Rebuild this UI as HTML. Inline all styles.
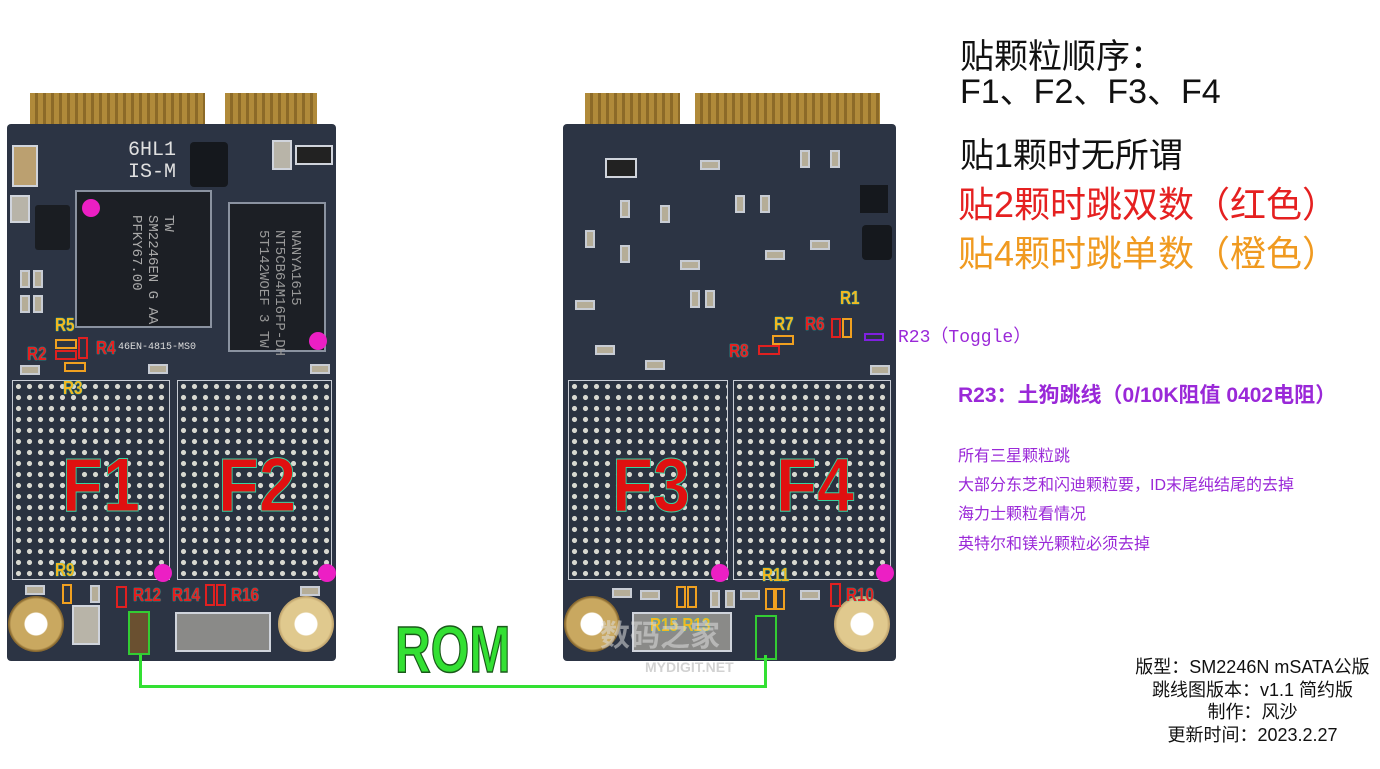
<!DOCTYPE html>
<html><head><meta charset="utf-8"><style>
*{margin:0;padding:0;box-sizing:border-box}
body{width:1380px;height:769px;background:#fff;position:relative;overflow:hidden;font-family:"Liberation Sans","Noto Sans CJK SC",sans-serif}
.a{position:absolute}
.board{position:absolute;background:#2c3444;border-radius:4px}
.gold{position:absolute;background:repeating-linear-gradient(90deg,#b08a3a 0 5px,#8c6a28 5px 8px);}
.chip{position:absolute;background:#1c1f25;border:2px solid #8a92a0}
.bga{position:absolute;border:1px solid #c8ccd4;background-color:#2a3240;
 background-image:radial-gradient(circle,#d8d8d0 2.3px,transparent 2.8px);background-size:11px 11px}
.hole{position:absolute;width:56px;height:56px;border-radius:50%;background:radial-gradient(circle,#fff 0 11px,#c9a860 12px 25px,#8a6a30 27px)}
.dot{position:absolute;width:18px;height:18px;border-radius:50%;background:#ec1fc4}
.big{position:absolute;font-size:76px;font-weight:bold;color:#e01010;-webkit-text-stroke:1px #3ad1a0;font-family:"Liberation Sans",sans-serif;transform:scaleX(.88);transform-origin:left;line-height:1}
.lbl{position:absolute;font-size:18px;font-weight:bold;line-height:1;text-shadow:0 0 1px #2cb,0 0 1px #2cb;transform:scaleX(.85);transform-origin:left}
.r{color:#e52020}.o{color:#f2b820}
.box{position:absolute;border:2px solid}
.smd{position:absolute;background:#b8b4a8;border:2px solid #d0d4dc}
.s{position:absolute;width:10px;height:18px;background:#b5ad98;border:2px solid #c8ccd4}
.sh{position:absolute;width:20px;height:10px;background:#b5ad98;border:2px solid #c8ccd4}
.t{position:absolute;white-space:nowrap;line-height:1}
</style></head><body>

<!-- left board -->
<div class="gold" style="left:30px;top:93px;width:175px;height:32px"></div>
<div class="gold" style="left:225px;top:93px;width:92px;height:32px"></div>
<div class="board" style="left:7px;top:124px;width:329px;height:537px"></div>
<div class="chip" style="left:75px;top:190px;width:137px;height:138px"></div>
<div class="chip" style="left:228px;top:202px;width:98px;height:150px"></div>
<div class="t" style="left:128px;top:215px;font-size:14px;color:#aaa;font-family:'Liberation Mono',monospace;writing-mode:vertical-rl;line-height:16px">TW<br>SM2246EN G AA<br>PFKY67.00</div>
<div class="t" style="left:255px;top:230px;font-size:14px;color:#999;font-family:'Liberation Mono',monospace;writing-mode:vertical-rl;line-height:16px">NANYA1615<br>NT5CB64M16FP-DH<br>5T142WOEF 3 TW</div>
<div class="a" style="left:190px;top:142px;width:38px;height:45px;background:#15181d;border-radius:4px"></div>
<div class="a" style="left:35px;top:205px;width:35px;height:45px;background:#1a1d22;border-radius:3px"></div>
<div class="t" style="left:128px;top:140px;font-size:20px;color:#e0e0e0;font-family:'Liberation Mono',monospace;line-height:22px">6HL1<br>IS-M</div>
<div class="smd" style="left:12px;top:145px;width:26px;height:42px;background:#bba070"></div>
<div class="smd" style="left:10px;top:195px;width:20px;height:28px"></div>
<div class="smd" style="left:295px;top:145px;width:38px;height:20px;background:#222"></div>
<div class="smd" style="left:272px;top:140px;width:20px;height:30px"></div>
<div class="s" style="left:20px;top:270px"></div><div class="s" style="left:33px;top:270px"></div>
<div class="s" style="left:20px;top:295px"></div><div class="s" style="left:33px;top:295px"></div>
<div class="sh" style="left:20px;top:365px"></div><div class="sh" style="left:148px;top:364px"></div>
<div class="sh" style="left:310px;top:364px"></div><div class="sh" style="left:300px;top:586px"></div>
<div class="sh" style="left:25px;top:585px"></div><div class="s" style="left:90px;top:585px"></div>
<div class="bga" style="left:12px;top:380px;width:158px;height:200px"></div>
<div class="bga" style="left:177px;top:380px;width:155px;height:200px"></div>
<div class="hole" style="left:8px;top:596px"></div>
<div class="hole" style="left:278px;top:596px;background:radial-gradient(circle,#fff 0 11px,#e0c98e 12px 25px,#c4a870 27px)"></div>
<div class="smd" style="left:175px;top:612px;width:96px;height:40px;background:#8a8a88"></div>
<div class="smd" style="left:72px;top:605px;width:28px;height:40px"></div>
<div class="big" style="left:62px;top:448px">F1</div>
<div class="big" style="left:218px;top:448px">F2</div>
<div class="dot" style="left:82px;top:199px"></div>
<div class="dot" style="left:309px;top:332px"></div>
<div class="dot" style="left:154px;top:564px"></div>
<div class="dot" style="left:318px;top:564px"></div>
<div class="lbl o" style="left:55px;top:316px">R5</div>
<div class="lbl r" style="left:27px;top:345px">R2</div>
<div class="lbl r" style="left:96px;top:339px">R4</div>
<div class="lbl o" style="left:63px;top:379px">R3</div>
<div class="t" style="left:118px;top:343px;font-size:10px;color:#ddd;font-family:'Liberation Mono',monospace">46EN-4815-MS0</div>
<div class="box" style="left:55px;top:339px;width:22px;height:10px;border-color:#f0a020"></div>
<div class="box" style="left:55px;top:350px;width:22px;height:10px;border-color:#e02020"></div>
<div class="box" style="left:78px;top:337px;width:10px;height:22px;border-color:#e02020"></div>
<div class="box" style="left:64px;top:362px;width:22px;height:10px;border-color:#f0a020"></div>
<div class="lbl o" style="left:55px;top:561px">R9</div>
<div class="box" style="left:62px;top:584px;width:10px;height:20px;border-color:#f0a020"></div>
<div class="box" style="left:116px;top:586px;width:11px;height:22px;border-color:#e02020"></div>
<div class="lbl r" style="left:133px;top:586px">R12</div>
<div class="lbl r" style="left:172px;top:586px">R14</div>
<div class="box" style="left:205px;top:584px;width:10px;height:22px;border-color:#e02020"></div>
<div class="box" style="left:216px;top:584px;width:10px;height:22px;border-color:#e02020"></div>
<div class="lbl r" style="left:231px;top:586px">R16</div>
<div class="box" style="left:128px;top:611px;width:22px;height:44px;border-color:#3c3;background:#6a5030"></div>

<!-- right board -->
<div class="gold" style="left:585px;top:93px;width:95px;height:32px"></div>
<div class="gold" style="left:695px;top:93px;width:185px;height:32px"></div>
<div class="board" style="left:563px;top:124px;width:333px;height:537px"></div>
<div class="smd" style="left:605px;top:158px;width:32px;height:20px;background:#222"></div>
<div class="a" style="left:862px;top:225px;width:30px;height:35px;background:#15181d;border-radius:4px"></div>
<div class="a" style="left:860px;top:185px;width:28px;height:28px;background:#15181d"></div>
<div class="s" style="left:620px;top:200px"></div><div class="s" style="left:660px;top:205px"></div>
<div class="s" style="left:690px;top:290px"></div><div class="s" style="left:705px;top:290px"></div>
<div class="s" style="left:735px;top:195px"></div><div class="s" style="left:760px;top:195px"></div>
<div class="s" style="left:800px;top:150px"></div><div class="s" style="left:830px;top:150px"></div>
<div class="s" style="left:585px;top:230px"></div><div class="s" style="left:620px;top:245px"></div>
<div class="sh" style="left:575px;top:300px"></div><div class="sh" style="left:595px;top:345px"></div>
<div class="sh" style="left:645px;top:360px"></div><div class="sh" style="left:870px;top:365px"></div>
<div class="sh" style="left:700px;top:160px"></div><div class="sh" style="left:765px;top:250px"></div>
<div class="sh" style="left:810px;top:240px"></div><div class="sh" style="left:680px;top:260px"></div>
<div class="bga" style="left:568px;top:380px;width:160px;height:200px"></div>
<div class="bga" style="left:733px;top:380px;width:158px;height:200px"></div>
<div class="hole" style="left:564px;top:596px"></div>
<div class="hole" style="left:834px;top:596px;background:radial-gradient(circle,#fff 0 11px,#e0c98e 12px 25px,#c4a870 27px)"></div>
<div class="smd" style="left:632px;top:612px;width:100px;height:40px;background:#8a8a88"></div>
<div class="sh" style="left:612px;top:588px"></div><div class="sh" style="left:640px;top:590px"></div>
<div class="sh" style="left:740px;top:590px"></div><div class="sh" style="left:800px;top:590px"></div>
<div class="s" style="left:710px;top:590px"></div><div class="s" style="left:725px;top:590px"></div>
<div class="big" style="left:612px;top:448px">F3</div>
<div class="big" style="left:776px;top:448px">F4</div>
<div class="dot" style="left:711px;top:564px"></div>
<div class="dot" style="left:876px;top:564px"></div>
<div class="lbl o" style="left:840px;top:289px">R1</div>
<div class="lbl o" style="left:774px;top:315px">R7</div>
<div class="lbl r" style="left:805px;top:315px">R6</div>
<div class="box" style="left:831px;top:318px;width:10px;height:20px;border-color:#e02020"></div>
<div class="box" style="left:842px;top:318px;width:10px;height:20px;border-color:#f0a020"></div>
<div class="box" style="left:772px;top:335px;width:22px;height:10px;border-color:#f0a020"></div>
<div class="box" style="left:758px;top:345px;width:22px;height:10px;border-color:#e02020"></div>
<div class="lbl r" style="left:729px;top:342px">R8</div>
<div class="box" style="left:864px;top:333px;width:20px;height:8px;border-color:#8020e0"></div>
<div class="lbl o" style="left:762px;top:566px">R11</div>
<div class="box" style="left:765px;top:588px;width:10px;height:22px;border-color:#f0a020"></div>
<div class="box" style="left:775px;top:588px;width:10px;height:22px;border-color:#f0a020"></div>
<div class="box" style="left:676px;top:586px;width:10px;height:22px;border-color:#f0a020"></div>
<div class="box" style="left:687px;top:586px;width:10px;height:22px;border-color:#f0a020"></div>
<div class="box" style="left:830px;top:583px;width:11px;height:24px;border-color:#e02020"></div>
<div class="lbl r" style="left:846px;top:586px">R10</div>
<div class="lbl o" style="left:650px;top:616px">R15 R13</div>
<div class="box" style="left:755px;top:615px;width:22px;height:45px;border-color:#3c3"></div>
<div class="t" style="left:600px;top:622px;font-size:30px;color:rgba(220,220,220,.55);font-weight:bold">数码之家</div>
<div class="t" style="left:645px;top:660px;font-size:14px;color:rgba(180,180,180,.6);font-weight:bold">MYDIGIT.NET</div>

<!-- ROM connector -->
<div class="a" style="left:139px;top:655px;width:628px;height:33px;border:3px solid #33e033;border-top:none"></div>
<div class="t" style="left:395px;top:616px;font-size:66px;font-weight:bold;color:#33e033;-webkit-text-stroke:1.5px #1a5a1a;transform:scaleX(.75);transform-origin:left">ROM</div>

<!-- right text -->
<div class="t" style="left:960px;top:40px;font-size:34px;color:#111">贴颗粒顺序：</div>
<div class="t" style="left:960px;top:75px;font-size:34px;color:#111">F1、F2、F3、F4</div>
<div class="t" style="left:960px;top:139px;font-size:34px;color:#111">贴1颗时无所谓</div>
<div class="t" style="left:958px;top:187px;font-size:36px;color:#e52020">贴2颗时跳双数（红色）</div>
<div class="t" style="left:958px;top:236px;font-size:36px;color:#f09a20">贴4颗时跳单数（橙色）</div>
<div class="t" style="left:898px;top:329px;font-size:18px;color:#9a28d8;font-family:'Liberation Mono','Noto Sans CJK SC',monospace">R23（Toggle）</div>
<div class="t" style="left:958px;top:385px;font-size:21px;font-weight:bold;color:#9a28d8">R23：土狗跳线（0/10K阻值 0402电阻）</div>
<div class="t" style="left:958px;top:449px;font-size:16px;color:#9a28d8">所有三星颗粒跳</div>
<div class="t" style="left:958px;top:478px;font-size:16px;color:#9a28d8">大部分东芝和闪迪颗粒要，ID末尾纯结尾的去掉</div>
<div class="t" style="left:958px;top:507px;font-size:16px;color:#9a28d8">海力士颗粒看情况</div>
<div class="t" style="left:958px;top:537px;font-size:16px;color:#9a28d8">英特尔和镁光颗粒必须去掉</div>
<div class="a" style="left:1110px;top:656px;width:285px;text-align:center;font-size:18px;line-height:22.5px;color:#111">版型：SM2246N mSATA公版<br>跳线图版本：v1.1 简约版<br>制作：风沙<br>更新时间：2023.2.27</div>
</body></html>
